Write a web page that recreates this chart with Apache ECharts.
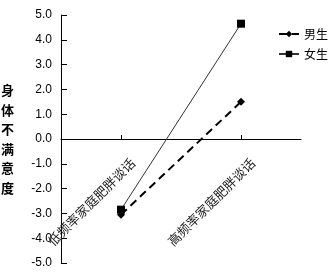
<!DOCTYPE html>
<html><head><meta charset="utf-8">
<script src="https://cdn.jsdelivr.net/npm/echarts@6/dist/echarts.min.js"></script>
<style>html,body{margin:0;padding:0;background:#fff}#c{width:333px;height:277px}</style>
</head><body><div id="c"></div>
<script>
const categories = ['低频率家庭肥胖谈话', '高频率家庭肥胖谈话'];
const boys = [-3.05, 1.5];
const girls = [-2.85, 4.65];
const yTicks = [-5, -4, -3, -2, -1, 0, 1, 2, 3, 4, 5];
const yName = '身体不满意度';

const chart = echarts.init(document.getElementById('c'));
const font = 'Liberation Sans, Arial, sans-serif';
const cjk = '"Noto Sans CJK SC", sans-serif';
chart.setOption({
  animation: false,
  grid: {left: 61, right: 32, top: 15, bottom: 14, outerBoundsMode: 'none'},
  legend: {
    orient: 'vertical', left: 273, top: 23, itemWidth: 20, itemHeight: 8, itemGap: 8,
    textStyle: {fontFamily: cjk, fontSize: 12, color: '#000'},
    data: ['男生', '女生']
  },
  xAxis: {
    type: 'category', data: categories, boundaryGap: true, position: 'bottom', offset: -124,
    axisLine: {show: true, onZero: false, lineStyle: {color: '#000', width: 1}},
    axisTick: {show: true, inside: true, length: 4, alignWithLabel: true, lineStyle: {color: '#000'}},
    axisLabel: {
      rotate: 45, margin: 10, interval: 0, verticalAlign: 'top', padding: [10, 0, 0, 0],
      fontFamily: cjk, fontSize: 13, color: '#222'
    }
  },
  yAxis: {
    type: 'value', min: -5, max: 5, interval: 1,
    name: yName.split('').join('\n'), nameLocation: 'middle', nameRotate: 0, nameGap: 47,
    nameTextStyle: {fontFamily: cjk, fontSize: 13, fontWeight: 'bold', lineHeight: 19.5, color: '#000'},
    axisLine: {show: true, onZero: false, lineStyle: {color: '#000'}},
    axisTick: {show: true, inside: true, length: 6, lineStyle: {color: '#000'}},
    splitLine: {show: false},
    axisLabel: {fontFamily: font, fontSize: 12, color: '#000', margin: 9,
      formatter: v => v.toFixed(1)}
  },
  series: [
    {name: '男生', type: 'line', data: boys,
     symbol: 'diamond', symbolSize: 8,
     lineStyle: {color: '#000', width: 2, type: [8, 5]}, itemStyle: {color: '#000'}},
    {name: '女生', type: 'line', data: girls,
     symbol: 'rect', symbolSize: 8,
     lineStyle: {color: '#333', width: 1}, itemStyle: {color: '#000'}}
  ]
});
</script></body></html>
